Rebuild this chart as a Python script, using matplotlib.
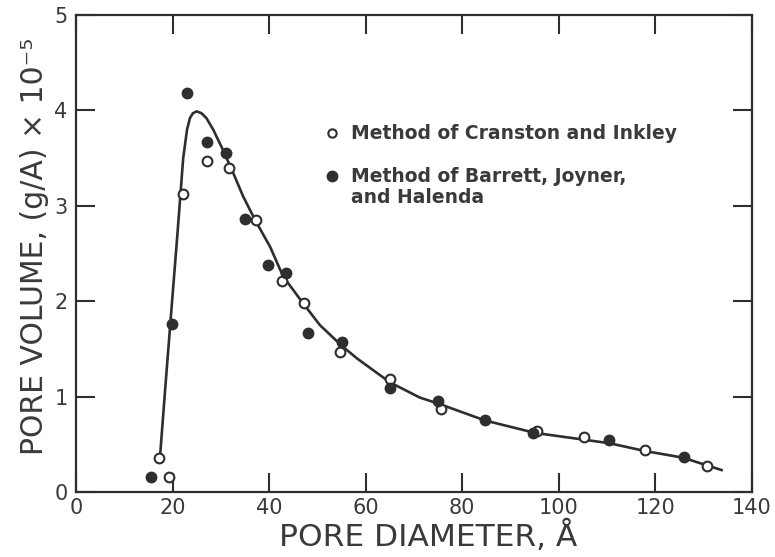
import numpy as np
import matplotlib.pyplot as plt

# Method of Cranston and Inkley (open circles)
ci_x = [17.2, 19.3, 22.1, 27.1, 31.7, 37.3, 42.7, 47.2, 54.7, 65.0, 75.6, 95.4, 105.2, 117.8, 130.6]
ci_y = [0.36, 0.16, 3.12, 3.47, 3.40, 2.85, 2.21, 1.98, 1.47, 1.18, 0.87, 0.64, 0.58, 0.44, 0.27]

# Method of Barrett, Joyner and Halenda (filled circles)
bjh_x = [15.5, 19.9, 23.0, 27.1, 31.1, 35.0, 39.8, 43.5, 48.0, 55.1, 65.0, 74.9, 84.7, 94.6, 110.4, 125.9]
bjh_y = [0.16, 1.76, 4.18, 3.67, 3.55, 2.86, 2.38, 2.30, 1.67, 1.57, 1.09, 0.95, 0.75, 0.62, 0.55, 0.37]

# smooth curve drawn through the data
fit_x = [17.4, 18.5, 19.9, 21.0, 21.6, 22.2, 23.0, 23.6, 24.2, 25.0, 26.0, 27.0, 28.4, 30.4, 32.6,
         34.6, 37.1, 40.2, 42.9, 47.0, 50.5, 55.1, 58.2, 65.0, 71.2, 75.4, 84.7, 95.0, 105.0,
         110.6, 117.8, 125.7, 133.7]
fit_y = [0.37, 1.10, 2.00, 2.70, 3.10, 3.50, 3.80, 3.92, 3.97, 3.99, 3.97, 3.92, 3.80, 3.59, 3.34,
         3.10, 2.85, 2.57, 2.26, 1.98, 1.75, 1.53, 1.40, 1.15, 0.99, 0.92, 0.75, 0.62, 0.55,
         0.51, 0.43, 0.36, 0.23]

xticks = [0, 20, 40, 60, 80, 100, 120, 140]
yticks = [0, 1, 2, 3, 4, 5]

ink = '#2e2e2e'
txt = '#3a3a3a'

fig = plt.figure(figsize=(7.75, 5.57), dpi=100)
ax = fig.add_axes([76/775, 1 - 492/557, 676/775, 477/557])

ax.plot(fit_x, fit_y, color=ink, lw=1.9, zorder=2, solid_joinstyle='round')
ax.plot(ci_x, ci_y, 'o', ms=7, mfc='white', mec=ink, mew=1.5, zorder=3)
ax.plot(bjh_x, bjh_y, 'o', ms=7.5, mfc=ink, mec=ink, zorder=3)

ax.set_xlim(0, 140)
ax.set_ylim(0, 5)
ax.set_xticks(xticks)
ax.set_yticks(yticks)
ax.tick_params(direction='in', length=14, width=1.5, colors=ink, labelcolor=txt,
               labelsize=15, top=True, right=True)
ax.tick_params(axis='x', pad=4)
ax.tick_params(axis='y', pad=6)
for s in ax.spines.values():
    s.set_linewidth(1.6)
    s.set_color(ink)

ax.set_xlabel('PORE DIAMETER, Å', fontsize=22.5, color=txt, va='center')
ax.xaxis.set_label_coords(0.521, -0.092)
ax.set_ylabel('PORE VOLUME, (g/A) × 10⁻⁵', fontsize=21.5, color=txt, va='center')
ax.yaxis.set_label_coords(-0.062, 0.515)

# legend drawn as text with markers
ax.plot([53.0], [3.76], 'o', ms=6, mfc='white', mec=ink, mew=1.5)
ax.plot([53.0], [3.31], 'o', ms=7.5, mfc=ink, mec=ink)
ax.text(57.0, 3.76, 'Method of Cranston and Inkley', fontsize=13.5, fontweight='bold',
        color=txt, va='center')
ax.text(57.0, 3.31, 'Method of Barrett, Joyner,', fontsize=13.5, fontweight='bold',
        color=txt, va='center')
ax.text(57.0, 3.09, 'and Halenda', fontsize=13.5, fontweight='bold',
        color=txt, va='center')

fig.savefig('out.png', dpi=100)
